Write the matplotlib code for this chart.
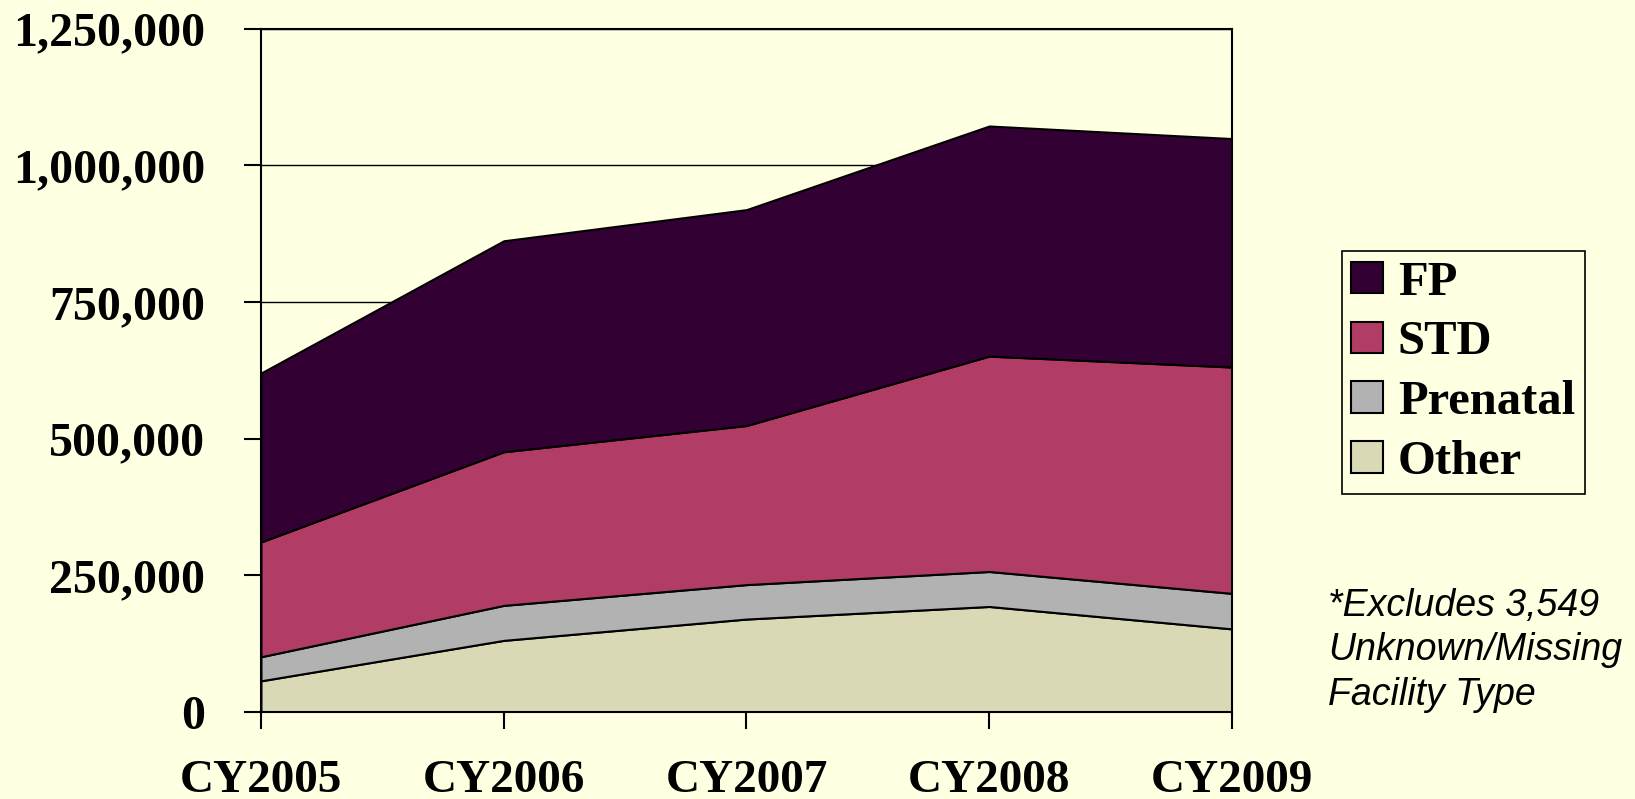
import matplotlib
matplotlib.use("Agg")
import matplotlib.pyplot as plt
from matplotlib.ticker import FuncFormatter
import numpy as np

years = ["CY2005", "CY2006", "CY2007", "CY2008", "CY2009"]
other = [57000, 131000, 170000, 193000, 152000]
prenatal = [44000, 64000, 63000, 64000, 65000]
std = [210000, 281000, 291000, 394000, 414000]
fp = [309000, 386000, 395000, 421000, 418000]

series_names = ["Other", "Prenatal", "STD", "FP"]
series_colors = ["#D9D9B6", "#B2B2B2", "#B13D66", "#330033"]
yticks = [0, 250000, 500000, 750000, 1000000, 1250000]
note = "*Excludes 3,549\nUnknown/Missing\nFacility Type"

bg = "#FFFFE1"
fig = plt.figure(figsize=(16.35, 7.99), dpi=100, facecolor=bg)
ax = fig.add_axes([0.1596, 0.1089, 0.7935 - 0.1596 - 0.04, 0.9641 - 0.1089])
ax.set_facecolor(bg)

x = np.arange(len(years))
polys = ax.stackplot(x, other, prenatal, std, fp, colors=series_colors,
                     labels=series_names, edgecolor="black", linewidth=1.5, zorder=2)

ax.set_xlim(0, len(years) - 1)
ax.set_ylim(0, 1250000)
ax.set_yticks(yticks)
ax.yaxis.set_major_formatter(FuncFormatter(lambda v, p: f"{int(v):,}"))
ax.set_xticks(x)
ax.set_xticklabels(years)
ax.grid(axis="y", color="black", linewidth=1.0, zorder=0)
ax.set_axisbelow(True)

for s in ax.spines.values():
    s.set_linewidth(1.5)
    s.set_color("black")
    s.set_zorder(5)

ax.tick_params(axis="y", direction="out", length=12, width=1.5, pad=28, colors="black")
ax.tick_params(axis="x", direction="out", length=12, width=1.5, pad=22.5, colors="black")
for lab in ax.get_yticklabels():
    lab.set_fontfamily("Liberation Serif")
    lab.set_fontweight("bold")
    lab.set_fontsize(34.5)
for lab in ax.get_xticklabels():
    lab.set_fontfamily("Liberation Serif")
    lab.set_fontweight("bold")
    lab.set_fontsize(34)

handles, labels = ax.get_legend_handles_labels()
leg = fig.legend(handles[::-1], labels[::-1], loc="upper left",
                 bbox_to_anchor=(0.8205, 0.686), frameon=True, fancybox=False,
                 edgecolor="black", facecolor=bg, framealpha=1,
                 prop=dict(family="Liberation Serif", weight="bold", size=35),
                 handlelength=0.66, handleheight=0.62, handletextpad=0.3,
                 labelspacing=0.325, borderpad=0.2, borderaxespad=0)
leg.get_frame().set_linewidth(1.2)

fig.text(1328 / 1635, 1 - 588 / 799, note, ha="left", va="top",
         fontfamily="Liberation Sans", fontstyle="italic", fontsize=27,
         linespacing=1.3, color="black")

fig.savefig("out.png", dpi=100, facecolor=bg)
